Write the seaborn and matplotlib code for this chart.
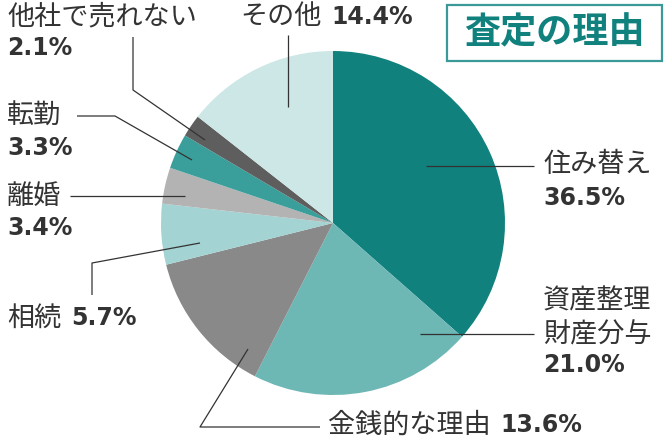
import numpy as np
import pandas as pd
import seaborn as sns
import matplotlib.pyplot as plt
from matplotlib.patches import Rectangle

sns.set_theme(style="white")
plt.rcParams['font.family'] = ['Noto Sans CJK JP', 'DejaVu Sans']

# data
labels = ['住み替え', '資産整理\n財産分与', '金銭的な理由', '相続', '離婚', '転勤', '他社で売れない', 'その他']
values = [36.5, 21.0, 13.6, 5.7, 3.4, 3.3, 2.1, 14.4]
colors = ['#11817e', '#6db7b5', '#898989', '#a3d3d2', '#b3b3b3', '#3a9f9b', '#5e5e5e', '#cde6e6']
title = '査定の理由'

df = pd.DataFrame({'label': labels, 'value': values, 'color': colors})

W, H = 667, 444
TXT = '#333333'
TEAL = '#11817e'

def P(x, y):
    # pixel coords (origin top-left) -> data coords
    return x, H - y

# label layout: (pct on same line?, label x, label y, pct x, pct y, leader path in px)
layout = [
    (False, 543, 165, 543, 198, [(426, 166), (534, 166)]),
    (False, 543, 318, 543, 365, [(420, 334), (534, 334)]),
    (True, 328, 425, None, None, [(248, 349), (200, 427), (320, 427)]),
    (True, 7, 318, None, None, [(200, 243), (92, 263), (92, 295)]),
    (False, 7, 196, 7, 228, [(185, 196), (70, 196)]),
    (False, 7, 116, 7, 148, [(192, 160), (115, 116), (77, 116)]),
    (False, 7, 17, 7, 48, [(205, 140), (133, 90), (133, 37)]),
    (True, 240, 17, None, None, [(288, 107), (288, 35)]),
]

fig = plt.figure(figsize=(W / 100, H / 100), dpi=100)
ax = fig.add_axes([0, 0, 1, 1])

ax.pie(df['value'], colors=df['color'], startangle=90, counterclock=False,
       center=P(333, 223), radius=172, wedgeprops=dict(linewidth=0))

for (lab, val), (inline, lx, ly, px, py, path) in zip(zip(df['label'], df['value']), layout):
    xs, ys = zip(*[P(x, y) for x, y in path])
    ax.plot(xs, ys, color=TXT, lw=0.9, solid_capstyle='butt')
    pct = f'{val:.1f}%'
    t = ax.text(*P(lx, ly), lab, fontsize=19.5, color=TXT, ha='left', va='center',
                linespacing=1.3)
    if inline:
        ax.annotate(pct, xy=(1, 0.5), xycoords=t, xytext=(7, 0), textcoords='offset points',
                    fontsize=17, fontweight='bold', color=TXT, va='center', ha='left',
                    family='DejaVu Sans')
    else:
        ax.text(*P(px, py), pct, fontsize=17, fontweight='bold', color=TXT,
                ha='left', va='center', family='DejaVu Sans')

# title box
ax.add_patch(Rectangle(P(447, 61), 215, 56, fill=False, edgecolor='#3a9a97', lw=1.6))
ax.text(*P(554, 33), title, fontsize=26, fontweight='bold', color=TEAL, ha='center', va='center')

ax.set_xlim(0, W)
ax.set_ylim(0, H)
ax.set_aspect('auto')
ax.axis('off')

fig.savefig('out.png', dpi=100)
